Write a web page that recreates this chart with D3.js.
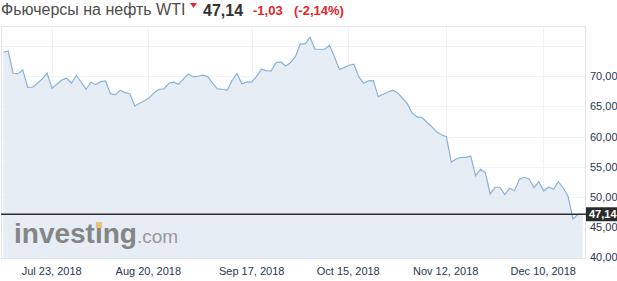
<!DOCTYPE html>
<html>
<head>
<meta charset="utf-8">
<script src="https://cdn.jsdelivr.net/npm/d3@7"></script>
<style>
  body { margin: 0; background: #fff; }
  svg { display: block; font-family: Arial, "Liberation Sans", sans-serif; }
</style>
</head>
<body>
<div id="chart"></div>
<script>
(() => {
  // daily closes, WTI crude futures
  const prices = [
    73.96, 74.17, 70.48, 70.41, 71.03, 68.16, 68.16, 68.82, 69.54, 70.48,
    68.0, 68.66, 69.37, 69.65, 68.82, 70.15, 68.99, 67.83, 68.99, 68.59,
    69.09, 69.21, 67.1, 66.89, 67.67, 67.27, 67.1, 65.07, 65.51, 65.94,
    66.44, 67.27, 67.83, 67.88, 68.82, 68.99, 68.66, 69.54, 70.36, 69.87,
    69.98, 70.15, 69.92, 68.82, 67.88, 67.83, 67.67, 69.32, 70.41, 68.71,
    69.04, 68.99, 69.92, 71.14, 70.91, 70.86, 72.24, 72.35, 71.69, 72.24,
    73.23, 75.33, 75.33, 76.44, 74.45, 74.45, 74.45, 75.12, 73.23, 71.14,
    71.41, 71.81, 71.97, 69.92, 68.82, 69.21, 69.26, 66.61, 67.0, 67.38,
    67.67, 67.22, 66.34, 65.4, 63.86, 63.25, 63.13, 62.37, 61.64, 60.81,
    60.31, 59.98, 55.79, 56.29, 56.57, 56.57, 56.79, 53.48, 54.59, 54.02,
    50.5, 51.61, 51.61, 50.38, 51.44, 51.04, 52.93, 53.26, 52.98, 51.54,
    52.53, 50.99, 51.66, 51.27, 52.53, 51.49, 50.12, 46.36, 47.14, 47.14
  ];
  const dateLabels = ["Jul 23, 2018", "Aug 20, 2018", "Sep 17, 2018", "Oct 15, 2018", "Nov 12, 2018", "Dec 10, 2018"];
  const dateTickIndex = [9.94, 29.78, 51.02, 70.85, 90.86, 110.9];
  const gridValues = [45, 50, 55, 60, 65, 70, 75];
  const labelValues = [40, 45, 50, 55, 60, 65, 70];
  const lastPrice = 47.14;
  const title = "Фьючерсы на нефть WTI";
  const change = "-1,03";
  const changePct = "(-2,14%)";

  const width = 617, height = 281;
  const plot = { left: 1, right: 585, top: 26, bottom: 258 };

  const svg = d3.select("#chart").append("svg")
    .attr("width", width).attr("height", height);

  const x = d3.scaleLinear().domain([0, prices.length - 1]).range([3.3, 582.7]);
  const y = d3.scaleLinear().domain([39.9, 78.3]).range([plot.bottom, plot.top]);
  const fmt = (v) => d3.format(".2f")(v).replace(".", ",");

  // plot frame
  svg.append("rect")
    .attr("x", plot.left + 0.5).attr("y", plot.top + 0.5)
    .attr("width", plot.right - plot.left).attr("height", plot.bottom - plot.top)
    .attr("fill", "#fff").attr("stroke", "#e4e4ee");

  // grid
  svg.append("g").selectAll("line").data(gridValues).enter().append("line")
    .attr("x1", plot.left + 1).attr("x2", plot.right)
    .attr("y1", (d) => Math.round(y(d)) + 0.5).attr("y2", (d) => Math.round(y(d)) + 0.5)
    .attr("stroke", "#f1f2f6");
  svg.append("g").selectAll("line").data(dateTickIndex).enter().append("line")
    .attr("x1", (d) => Math.round(x(d)) + 0.5).attr("x2", (d) => Math.round(x(d)) + 0.5)
    .attr("y1", plot.top + 1).attr("y2", plot.bottom)
    .attr("stroke", "#f1f2f6");

  // area + line
  const area = d3.area()
    .x((d, i) => x(i))
    .y0(plot.bottom)
    .y1((d) => y(d));
  const line = d3.line()
    .x((d, i) => x(i))
    .y((d) => y(d));

  svg.append("path").datum(prices)
    .attr("fill", "#e4ecf3").attr("fill-opacity", 0.92)
    .attr("d", area);

  // watermark
  const wm = svg.append("text").attr("x", 14).attr("y", 243);
  wm.append("tspan").attr("font-size", 28).attr("font-weight", "bold")
    .attr("fill", "#858585").text("investing");
  wm.append("tspan").attr("font-size", 19).attr("fill", "#999").text(".com");
  // orange dot on the second "i"
  const node = wm.node();
  const ix = node.getStartPositionOfChar(6).x;
  const iw = node.getSubStringLength(6, 1);
  svg.append("rect").attr("x", ix + iw / 2 - 3).attr("y", 222).attr("width", 6).attr("height", 6)
    .attr("fill", "#e8c17a");

  svg.append("path").datum(prices)
    .attr("fill", "none").attr("stroke", "#88b2dc").attr("stroke-width", 1.2)
    .attr("d", line);

  // last price line
  svg.append("line")
    .attr("x1", plot.left).attr("x2", plot.right + 2)
    .attr("y1", y(lastPrice)).attr("y2", y(lastPrice))
    .attr("stroke", "#2d2d2d").attr("stroke-width", 1.3);

  // y labels
  svg.append("g").selectAll("text").data(labelValues).enter().append("text")
    .attr("x", 590).attr("y", (d) => y(d) + 4)
    .attr("font-size", 11).attr("fill", "#2b3553")
    .text(fmt);

  // last price tag
  svg.append("rect")
    .attr("x", 586).attr("y", y(lastPrice) - 7)
    .attr("width", 31).attr("height", 14).attr("fill", "#2b2b2b");
  svg.append("text")
    .attr("x", 589).attr("y", y(lastPrice) + 4)
    .attr("font-size", 11).attr("font-weight", "bold").attr("fill", "#fff")
    .text(fmt(lastPrice));

  // x labels
  svg.append("g").selectAll("text").data(dateTickIndex).enter().append("text")
    .attr("x", (d) => x(d)).attr("y", 275)
    .attr("text-anchor", "middle")
    .attr("font-size", 11).attr("fill", "#2b3553")
    .text((d, i) => dateLabels[i]);

  // header
  svg.append("text").attr("x", 1).attr("y", 15)
    .attr("font-size", 16).attr("fill", "#4d4d4d").text(title);
  svg.append("path").attr("d", "M190,3 L197,3 L193.5,8 Z").attr("fill", "#e3262b");
  svg.append("text").attr("x", 203).attr("y", 16)
    .attr("font-size", 16).attr("font-weight", "bold").attr("fill", "#333")
    .text(fmt(lastPrice));
  svg.append("text").attr("x", 253).attr("y", 15)
    .attr("font-size", 13).attr("font-weight", "bold").attr("fill", "#e3262b")
    .text(change);
  svg.append("text").attr("x", 294).attr("y", 15)
    .attr("font-size", 13).attr("font-weight", "bold").attr("fill", "#e3262b")
    .text(changePct);
})();
</script>
</body>
</html>
